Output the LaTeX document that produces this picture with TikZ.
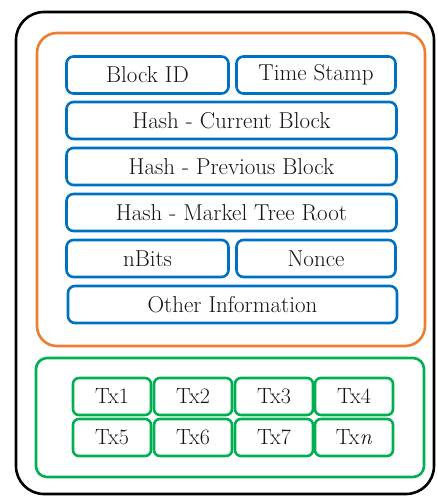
\documentclass[tikz,border=0pt]{standalone}
\usetikzlibrary{positioning}
\definecolor{bblue}{RGB}{0,112,192}
\definecolor{borange}{RGB}{237,125,49}
\definecolor{bgreen}{RGB}{0,176,80}
\definecolor{txt}{RGB}{20,20,20}
\tikzset{
  field/.style={draw=bblue, line width=2.6pt, rounded corners=7pt, minimum height=37pt, inner sep=0pt,
    font=\fontsize{23}{26}\selectfont, text=txt},
  txbox/.style={draw=bgreen, line width=2.6pt, rounded corners=6pt, minimum width=78pt, minimum height=37pt, inner sep=0pt,
    font=\fontsize{22}{26}\selectfont, text=txt},
  frame/.style={line width=2.6pt}
}
\begin{document}
\begin{tikzpicture}[x=1pt,y=-1pt]
\useasboundingbox (0,0) rectangle (437,497);
% outer black frame
\draw[frame, black, rounded corners=28pt] (16,12) rectangle (434,494);
% orange header frame
\draw[frame, borange, rounded corners=20pt] (37,33) rectangle (425,346);
% green transactions frame
\draw[frame, bgreen, rounded corners=11pt] (36,358) rectangle (424,477);
% header fields
\node[field, minimum width=162pt] (bid) at (147.5,75) {Block ID};
\node[field, minimum width=159pt] (ts) at (316,75) {Time Stamp};
\node[field, minimum width=330pt] (hc) at (231.5,120.5) {Hash - Current Block};
\node[field, minimum width=330pt] (hp) at (231.5,166.5) {Hash - Previous Block};
\node[field, minimum width=330pt] (hm) at (231.5,212.5) {Hash - Markel Tree Root};
\node[field, minimum width=162pt] (nb) at (147.5,258.5) {nBits};
\node[field, minimum width=159pt] (no) at (316,258.5) {Nonce};
\node[field, minimum width=329pt] (oi) at (232.5,304.5) {Other Information};
% transactions
\node[txbox] (t1) at (112,396.5) {Tx1};
\node[txbox] (t2) at (193,396.5) {Tx2};
\node[txbox] (t3) at (274,396.5) {Tx3};
\node[txbox] (t4) at (354,396.5) {Tx4};
\node[txbox] (t5) at (112,437.5) {Tx5};
\node[txbox] (t6) at (193,437.5) {Tx6};
\node[txbox] (t7) at (274,437.5) {Tx7};
\node[txbox] (tn) at (354,437.5) {Tx\textit{n}};
\end{tikzpicture}
\end{document}
